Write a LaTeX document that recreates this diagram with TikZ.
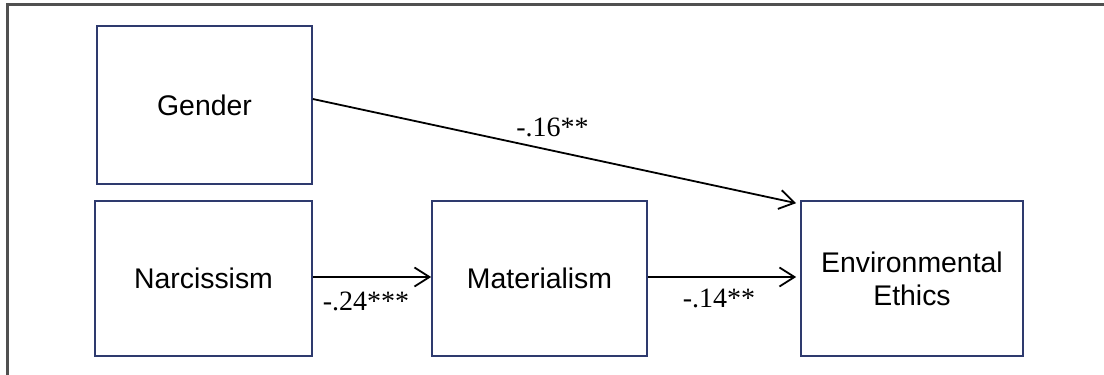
\documentclass[tikz,border=0pt]{standalone}
\usepackage{fontspec}
\setmainfont{Liberation Serif}
\setsansfont{Liberation Sans}
\usetikzlibrary{arrows.meta}
\definecolor{boxblue}{HTML}{2E3A6E}
\definecolor{framegray}{HTML}{505050}

\begin{document}
\begin{tikzpicture}[x=0.5pt, y=-0.5pt,
    var/.style={draw=boxblue, line width=0.85pt, inner sep=0pt, align=center,
        minimum height=77.5pt, font=\sffamily\fontsize{14.2}{16.5}\selectfont},
    coef/.style={font=\fontsize{14}{16}\selectfont, inner sep=0pt},
    path/.style={draw, line width=0.9pt, -{Straight Barb[length=7.5pt,width=9.5pt]}}]
	\useasboundingbox (0,0) rectangle (1104,375);
	% frame
	\draw[framegray, line width=1.4pt] (7.5,380) -- (7.5,4.5) -- (1110,4.5);
	% variables
	\node[var, minimum width=107.5pt, minimum height=79pt] (gen) at (204.5,105) {Gender};
	\node[var, minimum width=108.5pt] (nar) at (203.5,278.5) {Narcissism};
	\node[var, minimum width=107.5pt] (mat) at (539.5,278.5) {Materialism};
	\node[var, minimum width=111pt] (env) at (912,278.5) {Environmental\\Ethics};
	% paths
	\path[path] ([yshift=3pt]gen.east) -- ([xshift=-2pt, yshift=-1.5pt]env.north west)
		node[coef, midway, yshift=11.75pt, xshift=-1pt] {-.16**};
	\path[path] ([yshift=0.75pt]nar.east) -- ([yshift=0.75pt]mat.west)
		node[coef, midway, yshift=-12pt, xshift=-3pt] {-.24***};
	\path[path] ([yshift=0.75pt]mat.east) -- ([xshift=-2pt, yshift=0.75pt]env.west)
		node[coef, midway, yshift=-10.5pt, xshift=-1.5pt] {-.14**};
\end{tikzpicture}
\end{document}
